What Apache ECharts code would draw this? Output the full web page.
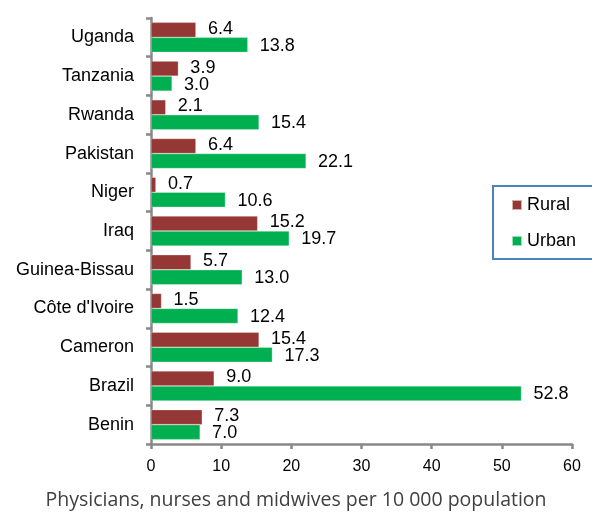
<!DOCTYPE html>
<html>
<head>
<meta charset="utf-8">
<script src="https://cdn.jsdelivr.net/npm/echarts@6/dist/echarts.min.js"></script>
<style>
  html, body { margin: 0; padding: 0; background: #fff; }
  #chart { width: 592px; height: 517px; }
</style>
</head>
<body>
<div id="chart"></div>
<script>
// Health workforce density by country, rural vs urban
const countries = ['Uganda', 'Tanzania', 'Rwanda', 'Pakistan', 'Niger', 'Iraq',
  'Guinea-Bissau', "Côte d'Ivoire", 'Cameron', 'Brazil', 'Benin'];
const rural = [6.4, 3.9, 2.1, 6.4, 0.7, 15.2, 5.7, 1.5, 15.4, 9.0, 7.3];
const urban = [13.8, 3.0, 15.4, 22.1, 10.6, 19.7, 13.0, 12.4, 17.3, 52.8, 7.0];
const xTicks = { min: 0, max: 60, interval: 10 };
const axisTitle = 'Physicians, nurses and midwives per 10 000 population';

const FONT = '"Liberation Sans", Arial, sans-serif';
const axisGray = '#888888';

const chart = echarts.init(document.getElementById('chart'), null, { renderer: 'canvas' });

function barLabel(dy) {
  return {
    show: true,
    position: 'right',
    distance: 12,
    offset: [0, dy],
    color: '#000',
    fontFamily: FONT,
    fontSize: 18,
    formatter: p => p.value.toFixed(1)
  };
}

chart.setOption({
  animation: false,
  backgroundColor: '#fff',
  title: {
    text: axisTitle,
    left: 'center',
    top: 490,
    padding: 0,
    textStyle: { color: '#404040', fontFamily: '"Open Sans", sans-serif', fontSize: 19.5, fontWeight: 'normal' }
  },
  grid: { left: 151, right: 20, top: 18, bottom: 73, containLabel: false },
  legend: {
    orient: 'vertical',
    left: 493,
    top: 186,
    data: ['Rural', 'Urban'],
    itemWidth: 10,
    itemHeight: 10,
    itemGap: 18,
    icon: 'rect',
    padding: [10, 28, 9, 18],
    borderColor: '#4F81BD',
    borderWidth: 2,
    backgroundColor: '#fff',
    textStyle: { color: '#000', fontFamily: FONT, fontSize: 18 }
  },
  xAxis: {
    type: 'value',
    min: xTicks.min,
    max: xTicks.max,
    interval: xTicks.interval,
    axisLine: { show: true, lineStyle: { color: axisGray, width: 2.5 } },
    axisTick: { show: true, length: 5, lineStyle: { color: axisGray, width: 2.5 } },
    axisLabel: { color: '#000', fontFamily: FONT, fontSize: 16, margin: 15 },
    splitLine: { show: false }
  },
  yAxis: {
    type: 'category',
    inverse: true,
    data: countries,
    axisLine: { show: true, lineStyle: { color: axisGray, width: 2.5 } },
    axisTick: { show: true, length: 5, lineStyle: { color: axisGray, width: 2.5 } },
    axisLabel: { color: '#000', fontFamily: FONT, fontSize: 18, margin: 17 },
    splitLine: { show: false }
  },
  series: [
    {
      name: 'Rural',
      type: 'bar',
      data: rural,
      barWidth: 15,
      barGap: '0%',
      itemStyle: { color: '#953735', borderColor: 'rgba(255,255,255,0.6)', borderWidth: 0.5 },
      label: barLabel(-1)
    },
    {
      name: 'Urban',
      type: 'bar',
      data: urban,
      barWidth: 15,
      barGap: '0%',
      itemStyle: { color: '#00B050', borderColor: 'rgba(255,255,255,0.6)', borderWidth: 0.5 },
      label: barLabel(1)
    }
  ]
});
</script>
</body>
</html>
